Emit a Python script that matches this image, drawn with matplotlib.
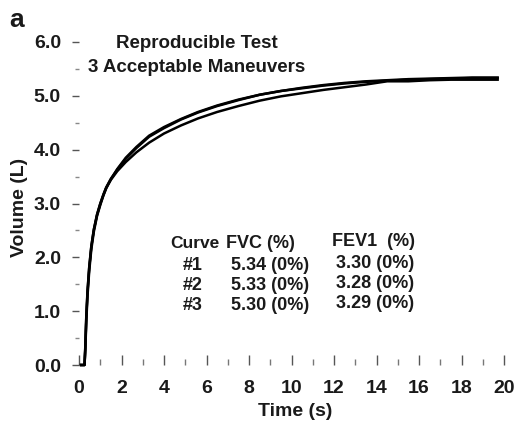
import matplotlib
matplotlib.use('Agg')
import matplotlib.pyplot as plt
from matplotlib.ticker import MultipleLocator, FormatStrFormatter

# time points (s) shared by the three maneuvers
t = [0.10, 0.26, 0.30, 0.34, 0.40, 0.48, 0.58, 0.70, 0.85, 1.00, 1.15, 1.28,
     1.50, 1.80, 2.20, 2.70, 3.30, 4.00, 4.80, 5.60, 6.50, 7.50, 8.50, 9.50,
     10.5, 11.5, 12.5, 13.5, 14.5, 15.5, 16.5, 17.5, 18.5, 19.7]

# exhaled volume (L) for each curve
vol1 = [0.00, 0.00, 0.35, 0.85, 1.35, 1.80, 2.20, 2.52, 2.80, 3.00, 3.17, 3.30,
        3.46, 3.63, 3.83, 4.03, 4.24, 4.40, 4.56, 4.69, 4.81, 4.92, 5.02, 5.09,
        5.15, 5.20, 5.24, 5.27, 5.29, 5.31, 5.32, 5.33, 5.34, 5.34]
vol2 = [0.00, 0.00, 0.30, 0.78, 1.28, 1.74, 2.15, 2.48, 2.77, 2.97, 3.15, 3.28,
        3.45, 3.64, 3.85, 4.05, 4.26, 4.42, 4.57, 4.70, 4.82, 4.93, 5.02, 5.09,
        5.14, 5.19, 5.23, 5.26, 5.28, 5.30, 5.31, 5.32, 5.33, 5.33]
vol3 = [0.00, 0.00, 0.38, 0.88, 1.38, 1.82, 2.21, 2.52, 2.79, 2.99, 3.16, 3.29,
        3.44, 3.60, 3.77, 3.95, 4.13, 4.30, 4.45, 4.58, 4.70, 4.81, 4.91, 4.99,
        5.05, 5.11, 5.16, 5.21, 5.27, 5.27, 5.29, 5.30, 5.30, 5.30]

curve_names = ['#1', '#2', '#3']
fvc = ['5.34 (0%)', '5.33 (0%)', '5.30 (0%)']
fev1 = ['3.30 (0%)', '3.28 (0%)', '3.29 (0%)']

plt.rcParams['font.family'] = ['Liberation Sans', 'DejaVu Sans']
plt.rcParams['font.weight'] = 'bold'
ink = '#1a1a1a'

W, H = 516, 421
fig = plt.figure(figsize=(W / 100, H / 100), dpi=100)
ax = fig.add_axes([79 / W, 1 - 365 / H, 425 / W, 323 / H])

def px(x, y):
    return x / W, 1 - y / H

for v in (vol1, vol2, vol3):
    ax.plot(t, v, color='black', lw=1.8, clip_on=False)

ax.set_xlim(0, 20)
ax.set_ylim(0, 6)
for s in ax.spines.values():
    s.set_visible(False)

ax.xaxis.set_major_locator(MultipleLocator(2))
ax.xaxis.set_minor_locator(MultipleLocator(1))
ax.yaxis.set_major_locator(MultipleLocator(1))
ax.yaxis.set_minor_locator(MultipleLocator(0.5))
ax.yaxis.set_major_formatter(FormatStrFormatter('%.1f'))

ax.tick_params(axis='x', which='major', direction='in', length=7, width=1,
               color='#555555', pad=11, labelsize=14, labelcolor=ink)
ax.tick_params(axis='x', which='minor', direction='in', length=4, width=1,
               color='#777777')
ax.tick_params(axis='y', which='major', direction='out', length=5, width=1,
               color='#555555', pad=8, labelsize=14, labelcolor=ink)
ax.tick_params(axis='y', which='minor', direction='out', length=3, width=1,
               color='#888888')

fig.text(*px(20, 207), 'Volume (L)', rotation=90, ha='center', va='center',
         fontsize=14, color=ink)
fig.text(*px(295, 412), 'Time (s)', ha='center', va='center',
         fontsize=14, color=ink)

fig.text(*px(197, 43), 'Reproducible Test', ha='center', va='center',
         fontsize=13.5, color=ink)
fig.text(*px(197, 68), '3 Acceptable Maneuvers', ha='center', va='center',
         fontsize=13.5, color=ink)

fig.text(*px(9, 27), 'a', ha='left', va='baseline', fontsize=19, color=ink)

# summary table
fig.text(*px(170, 243), 'Curve', ha='left', va='center', fontsize=12.5, color=ink)
fig.text(*px(226, 243), 'FVC (%)', ha='left', va='center', fontsize=13, color=ink)
fig.text(*px(332, 241), 'FEV1  (%)', ha='left', va='center', fontsize=13, color=ink)
for i in range(3):
    y = 265 + 20.5 * i
    fig.text(*px(183, y), curve_names[i], ha='left', va='center', fontsize=13, color=ink)
    fig.text(*px(231, y), fvc[i], ha='left', va='center', fontsize=13, color=ink)
    fig.text(*px(336, y - 2), fev1[i], ha='left', va='center', fontsize=13, color=ink)

fig.savefig('out.png', dpi=100)
